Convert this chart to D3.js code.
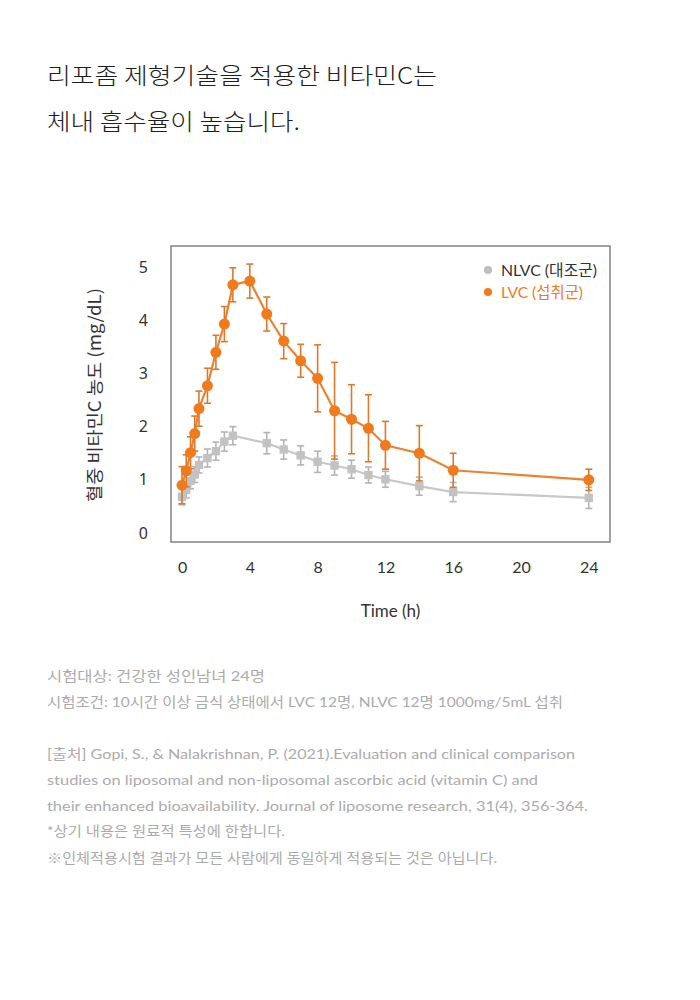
<!DOCTYPE html>
<html><head><meta charset="utf-8">
<script src="https://cdn.jsdelivr.net/npm/d3@7"></script>
<style>
html,body{margin:0;padding:0;background:#fff;}
svg{display:block;}
</style></head>
<body>
<svg id="chart" width="700" height="1000"></svg>
<script>
// ---- data ----
const titleLines = ["리포좀 제형기술을 적용한 비타민C는", "체내 흡수율이 높습니다."];
const lvcTimes = [0,0.25,0.5,0.75,1,1.5,2,2.5,3,4,5,6,7,8,9,10,11,12,14,16,24];
const lvcMean  = [0.90,1.17,1.51,1.87,2.34,2.77,3.40,3.93,4.67,4.74,4.12,3.61,3.24,2.91,2.30,2.14,1.97,1.65,1.50,1.18,1.00];
const lvcSd    = [0.35,0.30,0.30,0.33,0.33,0.33,0.32,0.33,0.32,0.32,0.32,0.33,0.31,0.63,0.91,0.65,0.63,0.45,0.52,0.32,0.20];
const nlvcTimes = [0,0.25,0.5,0.75,1,1.5,2,2.5,3,5,6,7,8,9,10,11,12,14,16,24];
const nlvcMean  = [0.68,0.81,0.98,1.10,1.28,1.41,1.54,1.72,1.83,1.69,1.57,1.46,1.34,1.27,1.20,1.09,1.01,0.88,0.77,0.66];
const nlvcSd    = [0.15,0.15,0.15,0.15,0.15,0.17,0.17,0.18,0.17,0.20,0.18,0.18,0.20,0.18,0.17,0.15,0.15,0.17,0.18,0.20];
const xTicks = [0,4,8,12,16,20,24];
const yTicks = [0,1,2,3,4,5];
const seriesNames = ["NLVC (대조군)", "LVC (섭취군)"];
const xTitle = "Time (h)";
const yTitle = "혈중 비타민C 농도 (mg/dL)";
const noteLines = [
  "시험대상: 건강한 성인남녀 24명",
  "시험조건: 10시간 이상 금식 상태에서 LVC 12명, NLVC 12명 1000mg/5mL 섭취",
  "[출처] Gopi, S., & Nalakrishnan, P. (2021).Evaluation and clinical comparison",
  "studies on liposomal and non-liposomal ascorbic acid (vitamin C) and",
  "their enhanced bioavailability. Journal of liposome research, 31(4), 356-364.",
  "*상기 내용은 원료적 특성에 한합니다.",
  "※인체적용시험 결과가 모든 사람에게 동일하게 적용되는 것은 아닙니다."
];

// ---- layout / style ----
const svg = d3.select("#chart");
const box = {left:171, top:246, right:610, bottom:542};
const ORANGE = "#f07a1c", ORANGE_LINE = "#ec8230", ORANGE_ERR = "#dc7a2c";
const GRAY = "#c2c2c2", GRAY_LINE = "#c8c8c8", GRAY_ERR = "#b4b4b4";
const KR = "'Noto Sans CJK KR', 'Noto Sans', sans-serif";
const LAT = "Lato, 'Noto Sans CJK KR', sans-serif";

svg.append("rect").attr("width",700).attr("height",1000).attr("fill","#fff");

// title
const titleY = [84, 130], titleW = [390, 253];
titleLines.forEach((t,i)=>{
  svg.append("text").attr("x",47).attr("y",titleY[i])
    .attr("font-family",KR).attr("font-size",23).attr("font-weight",300).attr("fill","#1e1e1e")
    .attr("textLength",titleW[i]).attr("lengthAdjust","spacingAndGlyphs")
    .text(t);
});

const x = d3.scaleLinear().domain([-0.65, 25.25]).range([box.left, box.right]);
const y = d3.scaleLinear().domain([-0.17, 5.4]).range([box.bottom, box.top]);

// frame
svg.append("rect").attr("x",box.left).attr("y",box.top)
  .attr("width",box.right-box.left).attr("height",box.bottom-box.top)
  .attr("fill","none").attr("stroke","#7a7a7a").attr("stroke-width",1.4);

// axes
const gx = svg.append("g").attr("transform",`translate(0,${box.bottom})`)
  .call(d3.axisBottom(x).tickValues(xTicks).tickSize(0).tickPadding(20).tickFormat(d3.format("d")));
gx.select(".domain").remove();
gx.selectAll("text").attr("font-family",LAT).attr("font-size",16).attr("fill","#333");

const gy = svg.append("g").attr("transform",`translate(${box.left},0)`)
  .call(d3.axisLeft(y).tickValues(yTicks).tickSize(0).tickPadding(23).tickFormat(d3.format("d")));
gy.select(".domain").remove();
gy.selectAll("text").attr("font-family","'Noto Sans', sans-serif").attr("font-size",16).attr("fill","#333");

svg.append("text").attr("x",(box.left+box.right)/2).attr("y",617)
  .attr("text-anchor","middle").attr("font-family",LAT).attr("font-size",17).attr("fill","#333")
  .text(xTitle);
svg.append("text").attr("transform",`translate(101,${(287+503)/2}) rotate(-90)`)
  .attr("text-anchor","middle").attr("font-family",KR).attr("font-size",17).attr("fill","#333")
  .attr("textLength",214).attr("lengthAdjust","spacingAndGlyphs")
  .text(yTitle);

// series
function drawSeries(times, mean, sd, lineColor, errColor, markColor, shape){
  const data = times.map((t,i)=>({t, m:mean[i], s:sd[i]}));
  const g = svg.append("g");
  g.append("path").datum(data)
    .attr("fill","none").attr("stroke",lineColor).attr("stroke-width",2.2)
    .attr("d", d3.line().x(d=>x(d.t)).y(d=>y(d.m)));
  const eb = g.append("g").attr("stroke",errColor).attr("stroke-width",1.6).attr("fill","none");
  data.forEach(d=>{
    const cx = x(d.t), y1 = y(d.m+d.s), y2 = y(d.m-d.s);
    eb.append("line").attr("x1",cx).attr("x2",cx).attr("y1",y1).attr("y2",y2);
    eb.append("line").attr("x1",cx-3.5).attr("x2",cx+3.5).attr("y1",y1).attr("y2",y1);
    eb.append("line").attr("x1",cx-3.5).attr("x2",cx+3.5).attr("y1",y2).attr("y2",y2);
  });
  if(shape==="square"){
    g.selectAll("rect.m").data(data).join("rect").attr("class","m")
      .attr("x",d=>x(d.t)-4.2).attr("y",d=>y(d.m)-4.2).attr("width",8.4).attr("height",8.4)
      .attr("fill",markColor);
  } else {
    g.selectAll("circle.m").data(data).join("circle").attr("class","m")
      .attr("cx",d=>x(d.t)).attr("cy",d=>y(d.m)).attr("r",5.5).attr("fill",markColor);
  }
}
drawSeries(nlvcTimes, nlvcMean, nlvcSd, GRAY_LINE, GRAY_ERR, GRAY, "square");
drawSeries(lvcTimes, lvcMean, lvcSd, ORANGE_LINE, ORANGE_ERR, ORANGE, "circle");

// legend
const legColors = ["#bdbdbd", ORANGE], legText = ["#333", ORANGE], legW = [96, 82];
seriesNames.forEach((n,i)=>{
  const ly = 270 + i*22;
  svg.append("circle").attr("cx",488).attr("cy",ly).attr("r",4).attr("fill",legColors[i]);
  svg.append("text").attr("x",501).attr("y",ly+5.5)
    .attr("font-family",LAT).attr("font-size",15.5).attr("fill",legText[i])
    .attr("textLength",legW[i]).attr("lengthAdjust","spacingAndGlyphs")
    .text(n);
});

// notes
const noteY = [681,707,759,785,811,836,863];
const noteW = [218,516,528,491,541,238,450];
noteLines.forEach((t,i)=>{
  svg.append("text").attr("x",47).attr("y",noteY[i])
    .attr("font-family",LAT).attr("font-size",14).attr("fill","#ababab")
    .attr("textLength",noteW[i]).attr("lengthAdjust","spacingAndGlyphs")
    .text(t);
});
</script>
</body></html>
